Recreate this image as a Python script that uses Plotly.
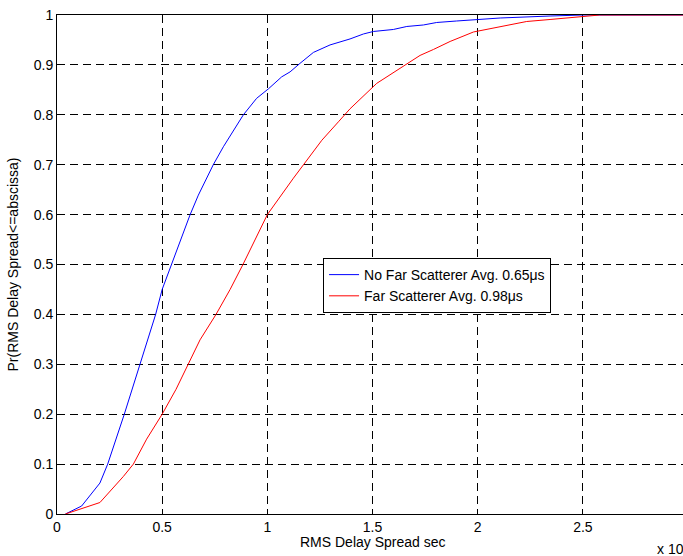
import plotly.graph_objects as go

# RMS delay spread (x 10^-6 s) and CDF values
blue_x = [0.04, 0.117, 0.204, 0.241, 0.32, 0.395, 0.469, 0.5, 0.545, 0.6, 0.632, 0.672,
          0.743, 0.791, 0.886, 0.949, 1.005, 1.068, 1.108, 1.155, 1.219, 1.298, 1.393,
          1.457, 1.504, 1.599, 1.663, 1.742, 1.805, 1.90, 2.01, 2.107, 2.344, 2.5, 3.0]
blue_y = [0.0, 0.016, 0.062, 0.1, 0.2, 0.3, 0.4, 0.45, 0.5, 0.565, 0.599, 0.639,
          0.70, 0.736, 0.80, 0.833, 0.852, 0.876, 0.886, 0.903, 0.925, 0.94, 0.952,
          0.962, 0.967, 0.971, 0.977, 0.98, 0.985, 0.988, 0.991, 0.994, 0.998, 1.0, 1.0]

red_x = [0.04, 0.204, 0.315, 0.363, 0.426, 0.5, 0.566, 0.624, 0.68, 0.756, 0.823, 0.884,
         0.918, 1.0, 1.124, 1.171, 1.259, 1.338, 1.393, 1.52, 1.631, 1.726, 1.79, 1.869,
         1.98, 2.107, 2.233, 2.344, 2.487, 2.58, 3.0]
red_y = [0.0, 0.023, 0.075, 0.1, 0.15, 0.2, 0.25, 0.3, 0.349, 0.4, 0.45, 0.5,
         0.529, 0.6, 0.673, 0.70, 0.749, 0.786, 0.812, 0.863, 0.894, 0.919, 0.931, 0.947,
         0.966, 0.977, 0.987, 0.991, 0.996, 1.0, 1.0]

names = ["No Far Scatterer Avg. 0.65μs", "Far Scatterer Avg. 0.98μs"]
x_ticks = [0, 0.5, 1, 1.5, 2, 2.5]
x_tick_labels = ["0", "0.5", "1", "1.5", "2", "2.5"]
y_ticks = [0, 0.1, 0.2, 0.3, 0.4, 0.5, 0.6, 0.7, 0.8, 0.9, 1]
y_tick_labels = ["0", "0.1", "0.2", "0.3", "0.4", "0.5", "0.6", "0.7", "0.8", "0.9", "1"]

FONT = "Liberation Sans, Arial, sans-serif"
FS = 14

fig = go.Figure()
fig.add_trace(go.Scatter(x=blue_x, y=blue_y, mode="lines", name=names[0],
                         line=dict(color="#0000ff", width=1)))
fig.add_trace(go.Scatter(x=red_x, y=red_y, mode="lines", name=names[1],
                         line=dict(color="#ff0000", width=1)))

axis_common = dict(showline=True, linecolor="black", linewidth=1,
                   showgrid=True, gridcolor="black", gridwidth=1, griddash="8px,5px",
                   ticks="inside", ticklen=5, tickcolor="black", zeroline=False,
                   tickfont=dict(family=FONT, size=FS, color="black"))

fig.update_layout(
    width=683, height=556,
    margin=dict(l=57, r=0, t=15, b=42),
    paper_bgcolor="white", plot_bgcolor="white",
    font=dict(family=FONT, size=FS, color="black"),
    xaxis=dict(range=[0, 2.976], tickvals=x_ticks, ticktext=x_tick_labels,
               mirror=True, **axis_common),
    yaxis=dict(range=[0, 1], tickvals=y_ticks, ticktext=y_tick_labels,
               mirror=False, **axis_common),
    legend=dict(x=0.425, y=0.513, xanchor="left", yanchor="top",
                bgcolor="white", bordercolor="black", borderwidth=1,
                font=dict(family=FONT, size=FS, color="black"),
                tracegroupgap=0),
    showlegend=True,
    annotations=[
        dict(text="RMS Delay Spread sec", xref="paper", yref="paper",
             x=(373 - 57) / 626, y=0, yshift=-28, xanchor="center", yanchor="middle",
             showarrow=False, font=dict(family=FONT, size=FS, color="black")),
        dict(text="Pr(RMS Delay Spread<=abscissa)", xref="paper", yref="paper",
             x=0, xshift=-45, y=0.5, textangle=-90, xanchor="center", yanchor="middle",
             showarrow=False, font=dict(family=FONT, size=FS, color="black")),
        dict(text="x 10<sup>-6</sup>", xref="paper", yref="paper",
             x=(655 - 57) / 626, y=0, yshift=-34, xanchor="left", yanchor="middle",
             showarrow=False, font=dict(family=FONT, size=FS, color="black")),
    ],
)

fig.write_html("out.html", config={"displayModeBar": False},
               post_script="document.body.style.margin='0';")
